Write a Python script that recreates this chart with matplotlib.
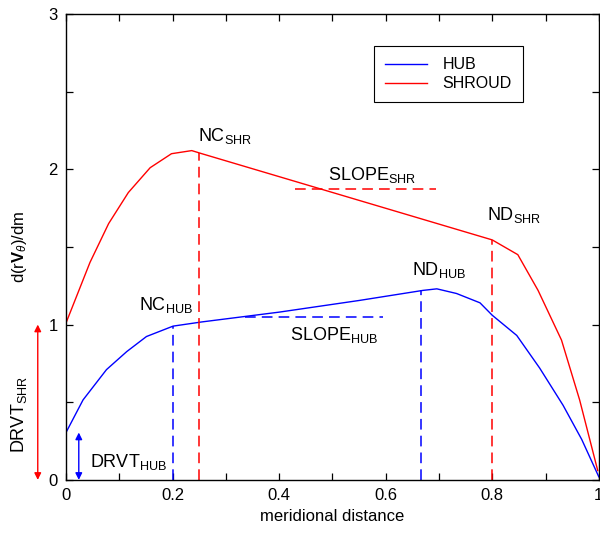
import matplotlib
matplotlib.use("Agg")
import matplotlib.pyplot as plt
from matplotlib.ticker import MultipleLocator, FixedLocator

plt.rcParams['font.family'] = ['Liberation Sans', 'DejaVu Sans']
plt.rcParams['mathtext.fontset'] = 'custom'
plt.rcParams['mathtext.rm'] = 'Liberation Sans'
plt.rcParams['mathtext.it'] = 'Liberation Sans:italic'
plt.rcParams['mathtext.bf'] = 'Liberation Sans:bold'

# curve data
hub_x = [0.0, 0.032, 0.076, 0.114, 0.151, 0.201, 0.255, 0.40, 0.55, 0.67, 0.696,
         0.733, 0.777, 0.80, 0.846, 0.889, 0.933, 0.968, 1.0]
hub_y = [0.305, 0.515, 0.71, 0.826, 0.923, 0.99, 1.017, 1.08, 1.155, 1.22, 1.23,
         1.20, 1.14, 1.06, 0.93, 0.72, 0.48, 0.26, 0.02]
shr_x = [0.0, 0.045, 0.08, 0.117, 0.158, 0.198, 0.236, 0.255, 0.80,
         0.848, 0.886, 0.93, 0.964, 0.998]
shr_y = [1.01, 1.40, 1.65, 1.85, 2.01, 2.10, 2.12, 2.10, 1.545,
         1.45, 1.22, 0.90, 0.515, 0.06]

# marker lines: (x, top)
hub_marks = [(0.2, 0.99), (0.667, 1.225)]
shr_marks = [(0.25, 2.105), (0.80, 1.545)]
slope_hub = (0.336, 0.595, 1.05)
slope_shr = (0.43, 0.695, 1.875)
drvt_hub = (0.024, 0.0, 0.305)
drvt_shr = (-0.053, 0.0, 1.0)

fig = plt.figure(figsize=(6.0, 5.35), dpi=100)
ax = fig.add_axes([0.11, 0.103, 0.888, 0.871])

ax.plot(hub_x, hub_y, color='blue', lw=1.0, label='HUB')
ax.plot(shr_x, shr_y, color='red', lw=1.0, label='SHROUD')

dash = (0, (7, 4))
for x, top in hub_marks:
    ax.plot([x, x], [0, top], color='blue', lw=1.1, linestyle=dash)
for x, top in shr_marks:
    ax.plot([x, x], [0, top], color='red', lw=1.1, linestyle=dash)
ax.plot(slope_hub[:2], [slope_hub[2]] * 2, color='blue', lw=1.1, linestyle=dash)
ax.plot(slope_shr[:2], [slope_shr[2]] * 2, color='red', lw=1.1, linestyle=dash)

for (x, y0, y1), c in [(drvt_hub, 'blue'), (drvt_shr, 'red')]:
    ax.annotate('', xy=(x, y1), xytext=(x, y0), annotation_clip=False,
                arrowprops=dict(arrowstyle='<|-|>', color=c, lw=1.0,
                                shrinkA=0, shrinkB=0, mutation_scale=10))

fs = 13
ax.text(0.248, 2.18, r'NC$_{\rm SHR}$', fontsize=fs)
ax.text(0.137, 1.095, r'NC$_{\rm HUB}$', fontsize=fs)
ax.text(0.492, 1.93, r'SLOPE$_{\rm SHR}$', fontsize=fs)
ax.text(0.42, 0.90, r'SLOPE$_{\rm HUB}$', fontsize=fs)
ax.text(0.79, 1.67, r'ND$_{\rm SHR}$', fontsize=fs)
ax.text(0.649, 1.32, r'ND$_{\rm HUB}$', fontsize=fs)
ax.text(0.045, 0.084, r'DRVT$_{\rm HUB}$', fontsize=fs)
ax.text(-0.088, 0.42, r'DRVT$_{\rm SHR}$', fontsize=fs, rotation=90,
        ha='center', va='center', clip_on=False)

ax.set_xlim(0, 1)
ax.set_ylim(0, 3)
ax.xaxis.set_major_locator(FixedLocator([0, 0.2, 0.4, 0.6, 0.8, 1.0]))
ax.set_xticklabels(['0', '0.2', '0.4', '0.6', '0.8', '1'])
ax.xaxis.set_minor_locator(MultipleLocator(0.1))
ax.yaxis.set_major_locator(MultipleLocator(1))
ax.yaxis.set_minor_locator(MultipleLocator(0.5))
ax.tick_params(which='both', direction='in', top=True, right=True,
               length=5, width=0.9, labelsize=12, pad=6)
for s in ax.spines.values():
    s.set_linewidth(1.0)

ax.set_xlabel('meridional distance', fontsize=12, labelpad=4)
ax.set_ylabel(r'd(r$\mathbf{V}_{\theta}$)/dm', fontsize=12, labelpad=14)

leg = ax.legend(loc='upper left', bbox_to_anchor=(0.578, 0.931), fontsize=11.5,
                fancybox=False, framealpha=1, edgecolor='black', borderaxespad=0,
                handlelength=2.6, handletextpad=1.0, borderpad=0.7,
                labelspacing=0.25)
leg.get_frame().set_linewidth(0.8)

fig.savefig('out.png', dpi=100)
